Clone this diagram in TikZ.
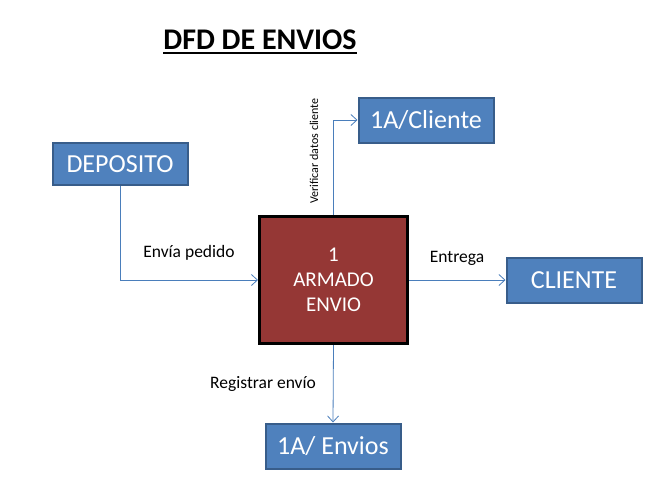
\documentclass[tikz,border=0pt]{standalone}
\usepackage{fontspec}
\setmainfont{Carlito}
\usepackage{tikz}
\usetikzlibrary{arrows.meta}
\definecolor{boxblue}{HTML}{4F81BD}
\definecolor{boxline}{HTML}{385D8A}
\definecolor{procred}{HTML}{953735}
\definecolor{flowblue}{HTML}{4A7EBB}

\begin{document}
\begin{tikzpicture}[x=1pt,y=-1pt]
\useasboundingbox (0,0) rectangle (672,491);
\node (T) [inner sep=0pt] at (260,40) {\fontsize{30}{34}\selectfont\bfseries DFD DE ENVIOS};
\draw[line width=2pt] ([yshift=-3.5pt]T.base west) -- ([yshift=-3.5pt]T.base east);

\begin{scope}[every node/.style={rectangle,draw=boxline,line width=2pt,fill=boxblue,text=white,
              inner sep=0pt,minimum width=135pt,minimum height=45pt,font=\fontsize{26}{30}\selectfont}]
    \node (DEP) [minimum height=42pt] at (120,164) {DEPOSITO};
    \node (CLI1) at (426,120) {1A/Cliente};
    \node (CLI) at (574,280) {CLIENTE};
    \node (ENV) at (333,446) {1A/ Envios};
\end{scope}
\node (P) [rectangle,draw=black,line width=3pt,fill=procred,text=white,align=center,
           minimum width=148pt,minimum height=127pt,font=\fontsize{21}{25}\selectfont] at (333.5,280) {1\\ARMADO\\ENVIO};

\begin{scope}[every node/.style={font=\fontsize{17.5}{20}\selectfont},
              flow/.style={draw=flowblue,line width=0.8pt,-{Straight Barb[length=6pt,width=11pt]}}]
    \draw[flow] (DEP.south) |- (P.west);
    \node (L1) at (189,253) {Envía pedido};
    \draw[flow] (P.north) |- (CLI1.west);
    \node (L2) [rotate=90,font=\fontsize{12}{14}\selectfont] at (314,151) {Verificar datos cliente};
    \draw[flow] (P.east) -- (CLI.west);
    \node (L3) at (457,258) {Entrega};
    \draw[flow] (P.south) -- (ENV.north);
    \node (L4) at (263,384) {Registrar envío};
\end{scope}
\end{tikzpicture}
\end{document}
